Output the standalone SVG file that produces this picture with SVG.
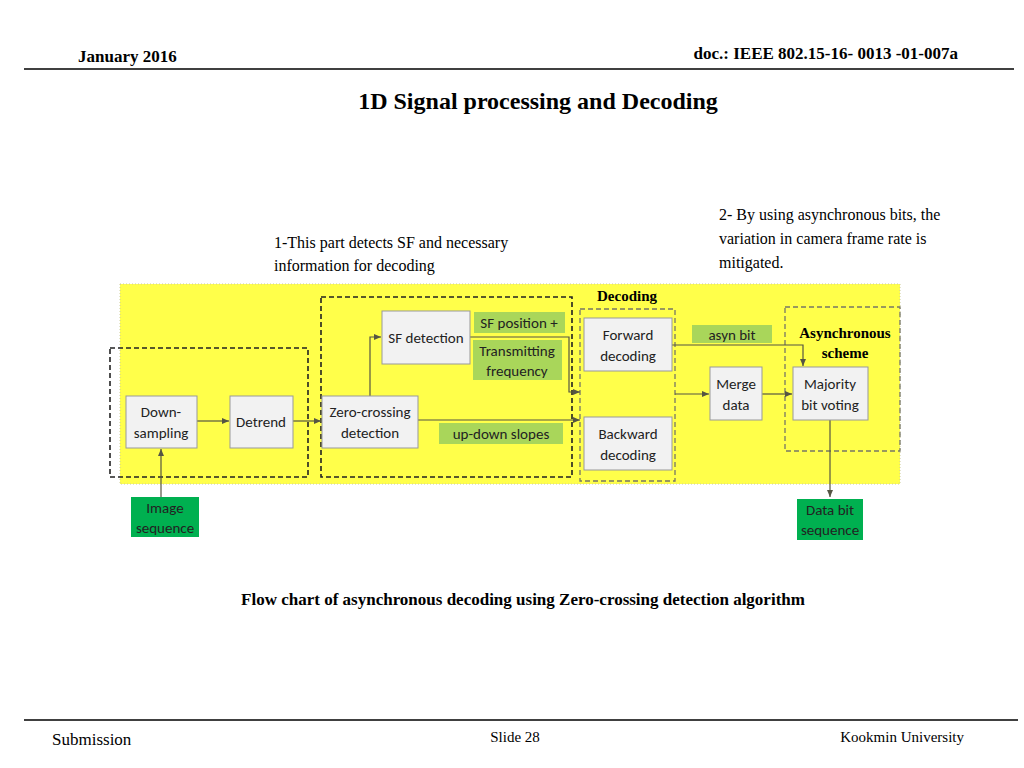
<svg xmlns="http://www.w3.org/2000/svg" width="1024" height="768" viewBox="0 0 1024 768">
<style>
.t{font-family:"Liberation Serif",serif;fill:#000}
.b{font-weight:bold}
.c{font-family:Carlito,"Liberation Sans",sans-serif;font-size:15px;fill:#222;text-anchor:middle}
.box{fill:#f2f2f2;stroke:#999;stroke-width:1}
.lab{fill:#a9d65a}
.grn{fill:#00b050}
.ln{fill:none;stroke:#554;stroke-width:1.2}
.dsh{fill:none;stroke:#222;stroke-width:1.6;stroke-dasharray:5,3}
.dsh2{fill:none;stroke:#776;stroke-width:1.3;stroke-dasharray:5,3}
</style>
<defs><marker id="a" markerWidth="8" markerHeight="8" refX="7" refY="4" orient="auto" markerUnits="userSpaceOnUse"><path d="M0,1 L7,4 L0,7z" fill="#554"/></marker></defs>
<rect width="1024" height="768" fill="#fff"/>
<text class="t b" x="78" y="62" font-size="17">January 2016</text>
<text class="t b" x="958" y="59" font-size="17" text-anchor="end">doc.: IEEE 802.15-16- 0013 -01-007a</text>
<line x1="24" y1="69" x2="1014" y2="69" stroke="#000" stroke-width="1.5"/>
<text class="t b" x="538" y="109" font-size="24" text-anchor="middle">1D Signal processing and Decoding</text>
<text class="t" x="274" y="248" font-size="16">1-This part detects SF and necessary</text>
<text class="t" x="274" y="271" font-size="16">information for decoding</text>
<text class="t" x="719" y="220" font-size="16">2- By using asynchronous bits, the</text>
<text class="t" x="719" y="244" font-size="16">variation in camera frame rate is</text>
<text class="t" x="719" y="268" font-size="16">mitigated.</text>
<rect x="120" y="284" width="780" height="200" fill="#ffff4a" stroke="#cc9" stroke-width="1" stroke-dasharray="1,2"/>
<g id="groups">
<rect class="dsh" x="110" y="348" width="198" height="129"/>
<rect class="dsh" x="321" y="297" width="251" height="180"/>
<rect class="dsh2" x="580" y="309" width="95" height="172"/>
<rect class="dsh2" x="785" y="307" width="115" height="144"/>
<text class="t b" x="627" y="301" font-size="15" text-anchor="middle">Decoding</text>
<text class="t b" x="845" y="338" font-size="15" text-anchor="middle">Asynchronous</text>
<text class="t b" x="845" y="358" font-size="15" text-anchor="middle">scheme</text>
</g>
<g id="labels">
<rect class="lab" x="474" y="312" width="91" height="21"/><text class="c" x="519" y="328">SF position +</text>
<rect class="lab" x="473" y="340" width="89" height="40"/><text class="c" x="517" y="356">Transmitting</text><text class="c" x="517" y="376">frequency</text>
<rect class="lab" x="439" y="423" width="124" height="21"/><text class="c" x="501" y="439">up-down slopes</text>
<rect class="lab" x="692" y="325" width="80" height="18"/><text class="c" x="732" y="340">asyn bit</text>
</g>
<g id="connectors">
<path class="ln" d="M161,497 V449" marker-end="url(#a)"/>
<path class="ln" d="M197,421 H229" marker-end="url(#a)"/>
<path class="ln" d="M293,421 H321" marker-end="url(#a)"/>
<path class="ln" d="M370,396 V337 H381" marker-end="url(#a)"/>
<path class="ln" d="M470,337 H569 V392 H580" marker-end="url(#a)"/>
<path class="ln" d="M418,420 H580" marker-end="url(#a)"/>
<path class="ln" d="M675,394 H709" marker-end="url(#a)"/>
<path class="ln" d="M672,345 H803 V366" marker-end="url(#a)"/>
<path class="ln" d="M762,394 H792" marker-end="url(#a)"/>
<path class="ln" d="M830,420 V497" marker-end="url(#a)"/>
</g>
<g id="n1"><rect class="box" x="126" y="396" width="71" height="52"/><text class="c" x="161" y="417">Down-</text><text class="c" x="161" y="438">sampling</text></g>
<g id="n2"><rect class="box" x="230" y="396" width="63" height="52"/><text class="c" x="261" y="427">Detrend</text></g>
<g id="n3"><rect class="box" x="322" y="396" width="96" height="52"/><text class="c" x="370" y="417">Zero-crossing</text><text class="c" x="370" y="438">detection</text></g>
<g id="n4"><rect class="box" x="382" y="311" width="88" height="53"/><text class="c" x="426" y="343">SF detection</text></g>
<g id="n5"><rect class="box" x="584" y="318" width="88" height="53"/><text class="c" x="628" y="340">Forward</text><text class="c" x="628" y="361">decoding</text></g>
<g id="n6"><rect class="box" x="584" y="417" width="88" height="53"/><text class="c" x="628" y="439">Backward</text><text class="c" x="628" y="460">decoding</text></g>
<g id="n7"><rect class="box" x="710" y="367" width="52" height="53"/><text class="c" x="736" y="389">Merge</text><text class="c" x="736" y="410">data</text></g>
<g id="n8"><rect class="box" x="793" y="367" width="75" height="53"/><text class="c" x="830" y="389">Majority</text><text class="c" x="830" y="410">bit voting</text></g>
<g id="n9"><rect class="grn" x="131" y="497" width="68" height="40"/><text class="c" x="165" y="513">Image</text><text class="c" x="165" y="533">sequence</text></g>
<g id="n10"><rect class="grn" x="797" y="499" width="66" height="41"/><text class="c" x="830" y="515">Data bit</text><text class="c" x="830" y="535">sequence</text></g>
<text class="t b" x="523" y="605" font-size="17" text-anchor="middle">Flow chart of asynchronous decoding using Zero-crossing detection algorithm</text>
<line x1="24" y1="720" x2="1018" y2="720" stroke="#000" stroke-width="1.5"/>
<text class="t" x="52" y="745" font-size="17">Submission</text>
<text class="t" x="515" y="742" font-size="15" text-anchor="middle">Slide 28</text>
<text class="t" x="964" y="742" font-size="15" text-anchor="end">Kookmin University</text>
</svg>
